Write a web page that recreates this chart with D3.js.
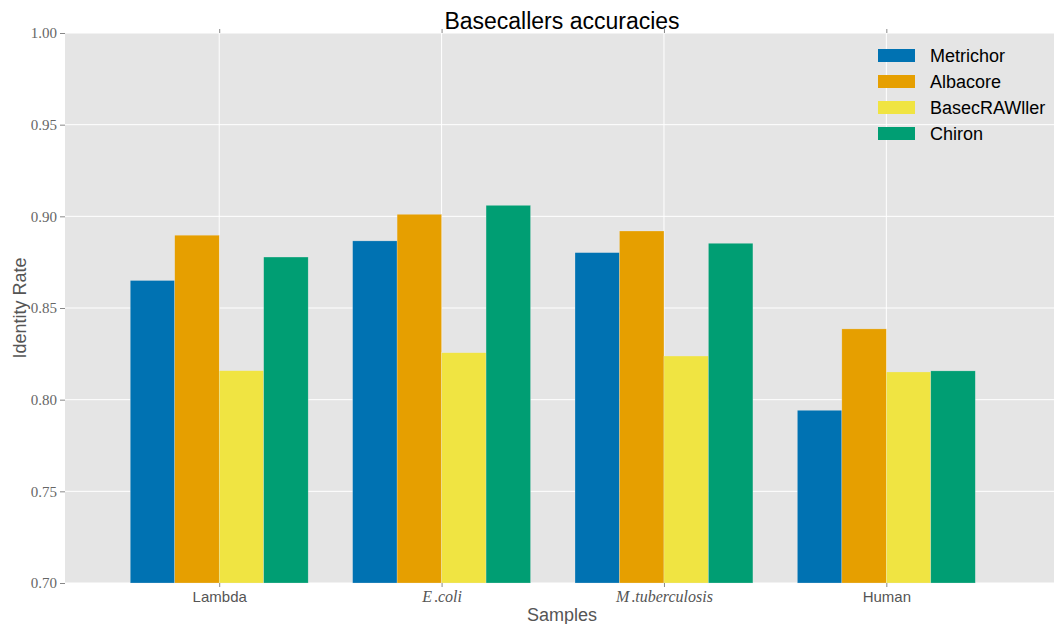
<!DOCTYPE html>
<html>
<head>
<meta charset="utf-8">
<script src="https://cdn.jsdelivr.net/npm/d3@7"></script>
<style>
  html, body { margin: 0; padding: 0; background: #fff; }
  svg { display: block; }
</style>
</head>
<body>
<svg id="chart" width="1054" height="624"></svg>
<script>
const categories = ["Lambda", "E.coli", "M.tuberculosis", "Human"];
const seriesNames = ["Metrichor", "Albacore", "BasecRAWller", "Chiron"];
const metrichor = [0.865, 0.8866, 0.8802, 0.7942];
const albacore = [0.8897, 0.9011, 0.892, 0.8386];
const basecrawller = [0.8158, 0.8256, 0.8238, 0.8151];
const chiron = [0.8778, 0.906, 0.8853, 0.8157];
const seriesValues = [metrichor, albacore, basecrawller, chiron];
const colors = ["#0072B2", "#E69F00", "#F0E442", "#009E73"];
const yTicks = [0.70, 0.75, 0.80, 0.85, 0.90, 0.95, 1.00];
const italicCats = { "E.coli": ["E", "coli"], "M.tuberculosis": ["M", "tuberculosis"] };

(function () {
const svg = d3.select("#chart");
const pL = 65, pR = 1054, pT = 33, pB = 583;
const barW = 0.2;

const x = d3.scaleLinear().domain([-0.6935, 3.754]).range([pL, pR]);
const y = d3.scaleLinear().domain([0.70, 1.00]).range([pB, pT]);

// background
svg.append("rect").attr("x", pL).attr("y", pT)
  .attr("width", pR - pL).attr("height", pB - pT).attr("fill", "#E5E5E5");

// grid
const grid = svg.append("g");
grid.selectAll("line.h").data(yTicks).join("line")
  .attr("x1", pL).attr("x2", pR)
  .attr("y1", d => y(d)).attr("y2", d => y(d))
  .attr("stroke", "#fff").attr("stroke-width", 1);
grid.selectAll("line.v").data(categories).join("line")
  .attr("x1", (d, i) => x(i)).attr("x2", (d, i) => x(i))
  .attr("y1", pT).attr("y2", pB)
  .attr("stroke", "#fff").attr("stroke-width", 1);

// bars
seriesValues.forEach((vals, k) => {
  svg.append("g").selectAll("rect").data(vals).join("rect")
    .attr("x", (d, i) => x(i - 0.4 + k * barW))
    .attr("width", x(barW) - x(0))
    .attr("y", d => y(d))
    .attr("height", d => y(0.70) - y(d))
    .attr("fill", colors[k])
    .attr("stroke", "#EEEEEE").attr("stroke-opacity", 0.5).attr("stroke-width", 0.5);
});

// y axis
const yAxis = d3.axisLeft(y).tickValues(yTicks).tickFormat(d3.format(".2f")).tickSize(5).tickPadding(3);
const gy = svg.append("g").attr("transform", `translate(${pL},0)`).call(yAxis);
gy.select(".domain").remove();
gy.selectAll(".tick line").attr("stroke", "#888");
gy.selectAll(".tick text").attr("fill", "#666")
  .style("font-family", "'Liberation Serif', 'DejaVu Serif', serif").style("font-size", "15px");

// x axis bottom
const xAxis = d3.axisBottom(x).tickValues(d3.range(categories.length)).tickFormat(i => categories[i]).tickSize(4).tickPadding(4);
const gx = svg.append("g").attr("transform", `translate(0,${pB})`).call(xAxis);
gx.select(".domain").remove();
gx.selectAll(".tick line").attr("stroke", "#888");
gx.selectAll(".tick text").attr("fill", "#555")
  .style("font-family", "'Liberation Sans', Arial, sans-serif").style("font-size", "15px")
  .each(function(i) {
    const name = categories[i];
    if (italicCats[name]) {
      const t = d3.select(this);
      t.text(null).style("font-family", "'Liberation Serif', 'DejaVu Serif', serif").style("font-size", "16px");
      t.append("tspan").style("font-style", "italic").text(italicCats[name][0]);
      t.append("tspan").attr("dx", 2).text(".");
      t.append("tspan").style("font-style", "italic").text(italicCats[name][1]);
    }
  });

// x top ticks
const xTop = d3.axisTop(x).tickValues(d3.range(categories.length)).tickFormat("").tickSize(4);
const gt = svg.append("g").attr("transform", `translate(0,${pT})`).call(xTop);
gt.select(".domain").remove();
gt.selectAll(".tick line").attr("stroke", "#888");

// title
svg.append("text").attr("x", 562).attr("y", 29).attr("text-anchor", "middle")
  .style("font-family", "'Liberation Sans', Arial, sans-serif").style("font-size", "23px")
  .attr("fill", "#000").text("Basecallers accuracies");

// axis labels
svg.append("text").attr("x", 562).attr("y", 621).attr("text-anchor", "middle")
  .style("font-family", "'Liberation Sans', Arial, sans-serif").style("font-size", "18px")
  .attr("fill", "#555").text("Samples");
svg.append("text").attr("transform", `translate(26,${(pT + pB) / 2}) rotate(-90)`)
  .attr("text-anchor", "middle")
  .style("font-family", "'Liberation Sans', Arial, sans-serif").style("font-size", "18px")
  .attr("fill", "#555").text("Identity Rate");

// legend
const lg = svg.append("g").attr("transform", "translate(878,49)");
const items = lg.selectAll("g").data(seriesNames).join("g")
  .attr("transform", (d, i) => `translate(0,${i * 26})`);
items.append("rect").attr("width", 37).attr("height", 13).attr("fill", (d, i) => colors[i]);
items.append("text").attr("x", 52).attr("y", 13)
  .style("font-family", "'Liberation Sans', Arial, sans-serif").style("font-size", "18px")
  .attr("fill", "#000").text(d => d);
})();
</script>
</body>
</html>
